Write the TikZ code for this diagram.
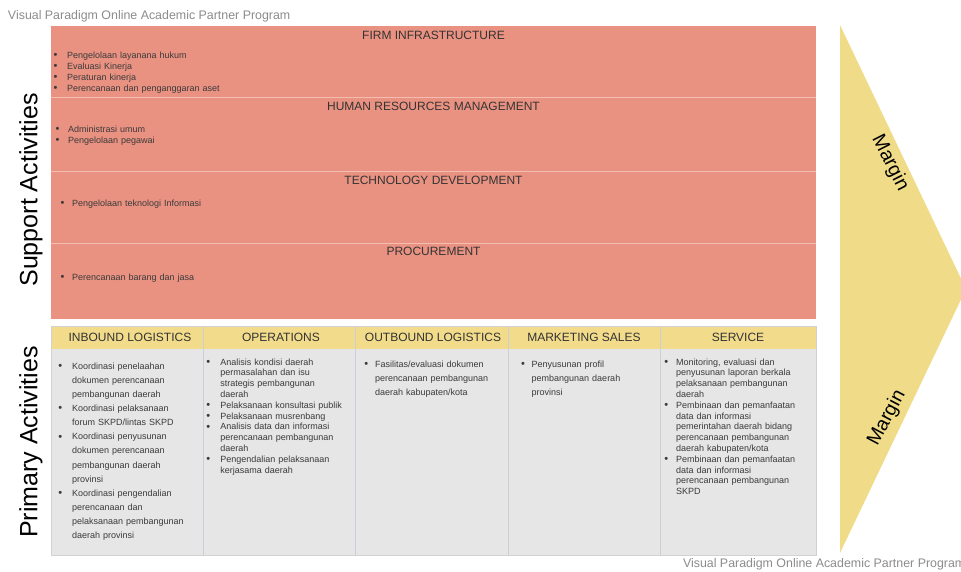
\documentclass[tikz,border=0pt]{standalone}
\usepackage{fontspec}
\setmainfont{Liberation Sans}

\definecolor{supportfill}{HTML}{EA9282}
\definecolor{supportrule}{HTML}{F4BDB1}
\definecolor{headfill}{HTML}{F2DC8B}
\definecolor{cellfill}{HTML}{E6E6E6}
\definecolor{cellrule}{HTML}{C9D0D8}
\definecolor{framegrey}{HTML}{D2D2D2}
\definecolor{marginfill}{HTML}{F0DC88}
\definecolor{inkgrey}{HTML}{333333}
\definecolor{bodygrey}{HTML}{3A3A3A}
\definecolor{markgrey}{HTML}{8C8C8C}

% one bulleted entry with a hanging indent of #1, closed as its own paragraph
\newcommand{\vcitem}[2]{\hangindent=#1\hangafter=1\noindent
  \makebox[#1][l]{\raisebox{-0.25pt}{\fontsize{11}{11}\selectfont •}}#2\par}

\begin{document}
\begin{tikzpicture}[x=1pt,y=-1pt,
  every node/.style={inner sep=0pt, outer sep=0pt},
  watermark/.style={anchor=west, text=markgrey, font=\fontsize{12.4}{14}\selectfont},
  sidelabel/.style={rotate=90, text=black, font=\fontsize{25}{30}\selectfont},
  margintext/.style={text=black, font=\fontsize{19.5}{22}\selectfont},
  sectiontitle/.style={text=inkgrey, font=\fontsize{12}{14}\selectfont},
  supportlist/.style={anchor=base west, align=left, text width=300pt, text=bodygrey,
    font=\fontsize{9}{11}\selectfont},
  widelist/.style={anchor=base west, align=left, text width=150pt, text=bodygrey,
    font=\fontsize{9}{14.15}\selectfont},
  tightlist/.style={anchor=base west, align=left, text width=150pt, text=bodygrey,
    font=\fontsize{9}{10.8}\selectfont}
]
\useasboundingbox (0,0) rectangle (961,571);
\fill[white] (0,0) rectangle (961,571);

% watermarks
\node[watermark] (wmtop) at (8,16) {Visual Paradigm Online Academic Partner Program};
\node[watermark] (wmbottom) at (683,564) {Visual Paradigm Online Academic Partner Program};

% margin arrow
\fill[marginfill] (840,25) -- (966,289) -- (840,553) -- cycle;
\node[margintext, rotate=-63] (marginup) at (890,163) {Margin};
\node[margintext, rotate=62] (margindown) at (887,418) {Margin};

% side labels
\node[sidelabel] (supportlabel) at (31,190) {Support Activities};
\node[sidelabel] (primarylabel) at (31,442) {Primary Activities};

% support activities
\fill[supportfill] (51,26) rectangle (816,319);
\draw[supportrule, line width=1pt] (51,97) -- (816,97);
\draw[supportrule, line width=1pt] (51,171) -- (816,171);
\draw[supportrule, line width=1pt] (51,243) -- (816,243);

\node[sectiontitle] (firm) at (433.5,35) {FIRM INFRASTRUCTURE};
\node[sectiontitle] (hrm) at (433.5,106) {HUMAN RESOURCES MANAGEMENT};
\node[sectiontitle] (tech) at (433.5,180) {TECHNOLOGY DEVELOPMENT};
\node[sectiontitle] (proc) at (433.5,251) {PROCUREMENT};

\node[supportlist] (firmlist) at (53.5,58.5) {%
  \vcitem{13.5pt}{Pengelolaan layanana hukum}%
  \vcitem{13.5pt}{Evaluasi Kinerja}%
  \vcitem{13.5pt}{Peraturan kinerja}%
  \vcitem{13.5pt}{Perencanaan dan penganggaran aset}};
\node[supportlist] (hrmlist) at (55.5,132) {%
  \vcitem{12.5pt}{Administrasi umum}%
  \vcitem{12.5pt}{Pengelolaan pegawai}};
\node[supportlist] (techlist) at (60.5,206) {%
  \vcitem{11.5pt}{Pengelolaan teknologi Informasi}};
\node[supportlist] (proclist) at (60.5,280) {%
  \vcitem{11.5pt}{Perencanaan barang dan jasa}};

% primary activities
\fill[cellfill] (51,326) rectangle (816,555);
\fill[headfill] (51,326) rectangle (816,349);
\foreach \cx in {203,355,508,660}
  \draw[cellrule, line width=1pt] (\cx,326) -- (\cx,555);
\draw[framegrey, line width=0.8pt] (51,326) rectangle (816,555);

\node[sectiontitle] (inbound) at (130,337.5) {INBOUND LOGISTICS};
\node[sectiontitle] (operations) at (281,337.5) {OPERATIONS};
\node[sectiontitle] (outbound) at (433,337.5) {OUTBOUND LOGISTICS};
\node[sectiontitle] (marketing) at (584,337.5) {MARKETING SALES};
\node[sectiontitle] (service) at (738,337.5) {SERVICE};

\node[widelist] (inboundlist) at (58.4,369) {%
  \vcitem{13.6pt}{Koordinasi penelaahan\newline dokumen perencanaan\newline pembangunan daerah}%
  \vcitem{13.6pt}{Koordinasi pelaksanaan\newline forum SKPD/lintas SKPD}%
  \vcitem{13.6pt}{Koordinasi penyusunan\newline dokumen perencanaan\newline pembangunan daerah\newline provinsi}%
  \vcitem{13.6pt}{Koordinasi pengendalian\newline perencanaan dan\newline pelaksanaan pembangunan\newline daerah provinsi}};

\node[tightlist] (operationslist) at (206.4,365) {%
  \vcitem{14pt}{Analisis kondisi daerah\newline permasalahan dan isu\newline strategis pembangunan\newline daerah}%
  \vcitem{14pt}{Pelaksanaan konsultasi publik}%
  \vcitem{14pt}{Pelaksanaan musrenbang}%
  \vcitem{14pt}{Analisis data dan informasi\newline perencanaan pembangunan\newline daerah}%
  \vcitem{14pt}{Pengendalian pelaksanaan\newline kerjasama daerah}};

\node[widelist] (outboundlist) at (364.4,367) {%
  \vcitem{10.6pt}{Fasilitas/evaluasi dokumen\newline perencanaan pembangunan\newline daerah kabupaten/kota}};

\node[widelist] (marketinglist) at (521.1,367) {%
  \vcitem{10.6pt}{Penyusunan profil\newline pembangunan daerah\newline provinsi}};

\node[tightlist] (servicelist) at (664.4,365) {%
  \vcitem{11.6pt}{Monitoring, evaluasi dan\newline penyusunan laporan berkala\newline pelaksanaan pembangunan\newline daerah}%
  \vcitem{11.6pt}{Pembinaan dan pemanfaatan\newline data dan informasi\newline pemerintahan daerah bidang\newline perencanaan pembangunan\newline daerah kabupaten/kota}%
  \vcitem{11.6pt}{Pembinaan dan pemanfaatan\newline data dan informasi\newline perencanaan pembangunan\newline SKPD}};
\end{tikzpicture}
\end{document}
